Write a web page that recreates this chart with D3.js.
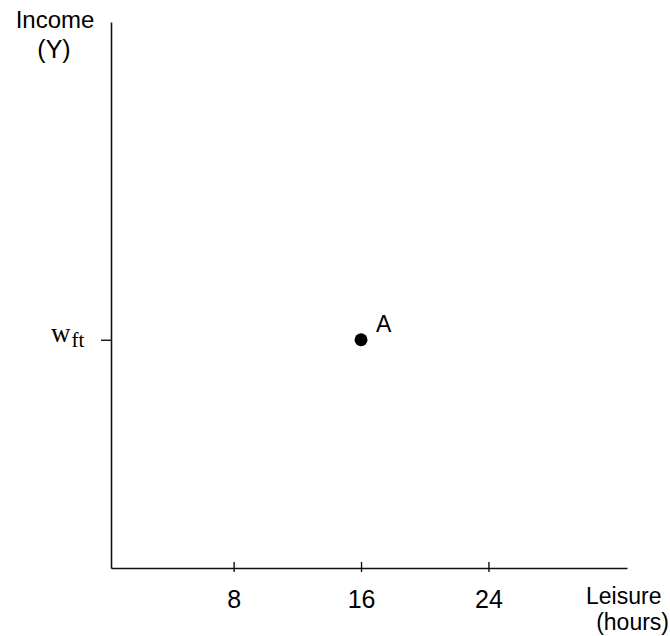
<!DOCTYPE html>
<html>
<head>
<meta charset="utf-8">
<script src="https://cdn.jsdelivr.net/npm/d3@7/dist/d3.min.js"></script>
<style>
  html, body { margin: 0; padding: 0; background: #fff; }
  svg text { font-family: "Liberation Sans", Arial, sans-serif; fill: #000; }
</style>
</head>
<body>
<div id="chart"></div>
<script>
// ---- data ----
const xTickValues = [8, 16, 24];          // leisure hours
const xExtent = [0.3, 32.7];              // axis span in hours
const yExtent = [0, 100];                 // income axis span (arbitrary units)
const yTickValues = [41.8];               // w_ft level
const points = [{ name: "A", leisure: 16, income: 41.8 }];
const xTitle = ["Leisure", "(hours)"];
const yTitle = ["Income", "(Y)"];

const W = 670, H = 636;
const svg = d3.select("#chart").append("svg")
  .attr("width", W).attr("height", H)
  .style("display", "block");
svg.append("rect").attr("width", W).attr("height", H).attr("fill", "#fff");

const x = d3.scaleLinear().domain(xExtent).range([111, 627]);
const y = d3.scaleLinear().domain(yExtent).range([568, 22]);

// x axis
const gx = svg.append("g").attr("transform", `translate(0,${y(yExtent[0])})`)
  .call(d3.axisBottom(x).tickValues(xTickValues).tickSize(4).tickSizeOuter(0).tickPadding(0).tickFormat(d3.format("d")));
gx.select(".domain").attr("stroke", "#111").attr("stroke-width", 1.6);
gx.selectAll(".tick line").attr("y1", -6).attr("y2", 4).attr("stroke", "#111").attr("stroke-width", 1.4);
gx.selectAll(".tick text")
  .attr("y", 40).attr("dy", null)
  .style("font-size", "25px").style("font-family", "Liberation Sans, Arial, sans-serif")
  .attr("fill", "#000");

// y axis
const gy = svg.append("g").attr("transform", `translate(${x(xExtent[0])},0)`)
  .call(d3.axisLeft(y).tickValues(yTickValues).tickSize(10).tickSizeOuter(0).tickFormat(() => ""));
gy.select(".domain").attr("stroke", "#111").attr("stroke-width", 1.6);
gy.selectAll(".tick line").attr("stroke", "#111").attr("stroke-width", 1.4);

// w_ft tick label (serif, with subscript)
yTickValues.forEach(v => {
  const t = svg.append("text")
    .attr("x", 51).attr("y", y(v) + 2)
    .style("font-family", "'Liberation Serif', 'Times New Roman', serif")
    .style("font-size", "27px");
  t.append("tspan").text("w");
  t.append("tspan").attr("dy", 5).attr("dx", 1).style("font-size", "21px").text("ft");
});

// points
svg.selectAll("circle.pt").data(points).join("circle")
  .attr("class", "pt")
  .attr("cx", d => x(d.leisure)).attr("cy", d => y(d.income))
  .attr("r", 6.5).attr("fill", "#000");
svg.selectAll("text.pt").data(points).join("text")
  .attr("class", "pt")
  .attr("x", d => x(d.leisure) + 15).attr("y", d => y(d.income) - 8)
  .style("font-size", "23px")
  .text(d => d.name);

// axis titles
svg.append("text").attr("x", 55).attr("y", 28).attr("text-anchor", "middle")
  .style("font-size", "24px").text(yTitle[0]);
svg.append("text").attr("x", 54).attr("y", 58).attr("text-anchor", "middle")
  .style("font-size", "25px").text(yTitle[1]);
svg.append("text").attr("x", 586).attr("y", 604)
  .style("font-size", "23px").text(xTitle[0]);
svg.append("text").attr("x", 669).attr("y", 630).attr("text-anchor", "end")
  .style("font-size", "23px").text(xTitle[1]);
</script>
</body>
</html>
